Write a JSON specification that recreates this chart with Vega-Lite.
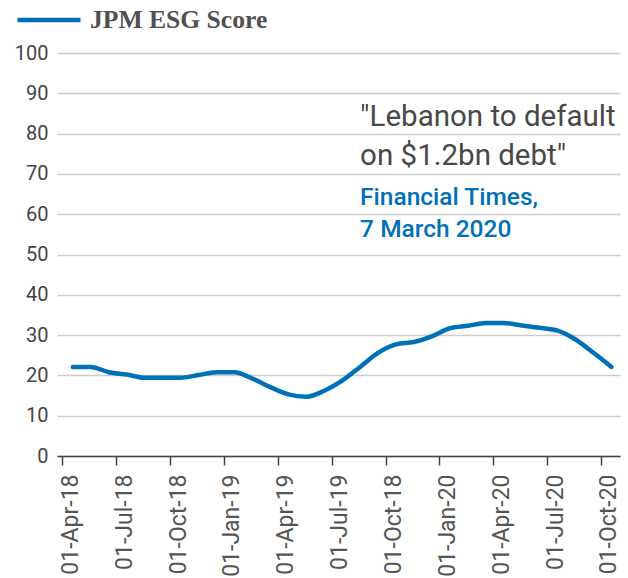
{
  "$schema": "https://vega.github.io/schema/vega-lite/v6.json",
  "autosize": {"type": "none"},
  "padding": {"left": 57, "top": 53, "right": 8, "bottom": 122},
  "width": 563,
  "height": 403,
  "background": "white",
  "config": {
    "view": {"stroke": null},
    "font": "Roboto"
  },
  "datasets": {
    "series": [
      {"m": "Apr-18", "v": 22.1, "s": "JPM ESG Score"},
      {"m": "May-18", "v": 22.1, "s": "JPM ESG Score"},
      {"m": "Jun-18", "v": 20.8, "s": "JPM ESG Score"},
      {"m": "Jul-18", "v": 20.2, "s": "JPM ESG Score"},
      {"m": "Aug-18", "v": 19.4, "s": "JPM ESG Score"},
      {"m": "Sep-18", "v": 19.4, "s": "JPM ESG Score"},
      {"m": "Oct-18", "v": 19.4, "s": "JPM ESG Score"},
      {"m": "Nov-18", "v": 20.1, "s": "JPM ESG Score"},
      {"m": "Dec-18", "v": 20.8, "s": "JPM ESG Score"},
      {"m": "Jan-19", "v": 20.8, "s": "JPM ESG Score"},
      {"m": "Feb-19", "v": 19.2, "s": "JPM ESG Score"},
      {"m": "Mar-19", "v": 17.1, "s": "JPM ESG Score"},
      {"m": "Apr-19", "v": 15.3, "s": "JPM ESG Score"},
      {"m": "May-19", "v": 14.7, "s": "JPM ESG Score"},
      {"m": "Jun-19", "v": 16.2, "s": "JPM ESG Score"},
      {"m": "Jul-19", "v": 18.7, "s": "JPM ESG Score"},
      {"m": "Aug-19", "v": 22.1, "s": "JPM ESG Score"},
      {"m": "Sep-19", "v": 25.6, "s": "JPM ESG Score"},
      {"m": "Oct-19", "v": 27.7, "s": "JPM ESG Score"},
      {"m": "Nov-19", "v": 28.3, "s": "JPM ESG Score"},
      {"m": "Dec-19", "v": 29.7, "s": "JPM ESG Score"},
      {"m": "Jan-20", "v": 31.7, "s": "JPM ESG Score"},
      {"m": "Feb-20", "v": 32.3, "s": "JPM ESG Score"},
      {"m": "Mar-20", "v": 33.0, "s": "JPM ESG Score"},
      {"m": "Apr-20", "v": 33.0, "s": "JPM ESG Score"},
      {"m": "May-20", "v": 32.4, "s": "JPM ESG Score"},
      {"m": "Jun-20", "v": 31.8, "s": "JPM ESG Score"},
      {"m": "Jul-20", "v": 31.1, "s": "JPM ESG Score"},
      {"m": "Aug-20", "v": 28.9, "s": "JPM ESG Score"},
      {"m": "Sep-20", "v": 25.6, "s": "JPM ESG Score"},
      {"m": "Oct-20", "v": 22.1, "s": "JPM ESG Score"}
    ],
    "quote": [
      {"m": "Aug-19", "v": 82.0, "t": "\"Lebanon to default"},
      {"m": "Aug-19", "v": 72.1, "t": "on $1.2bn debt\""}
    ],
    "source": [
      {"m": "Aug-19", "v": 62.2, "t": "Financial Times,"},
      {"m": "Aug-19", "v": 54.3, "t": "7 March 2020"}
    ]
  },
  "encoding": {
    "x": {
      "field": "m",
      "type": "ordinal",
      "sort": null,
      "scale": {"type": "point", "padding": 0.68, "align": 0.65},
      "axis": {
        "title": null,
        "values": ["Apr-18", "Jul-18", "Oct-18", "Jan-19", "Apr-19", "Jul-19", "Oct-19", "Jan-20", "Apr-20", "Jul-20", "Oct-20"],
        "labelExpr": "datum.value == 'Oct-19' ? '01-Oct-18' : '01-' + datum.value",
        "labelAngle": -90,
        "labelAlign": "right",
        "labelBaseline": "middle",
        "labelFont": "Roboto",
        "labelFontSize": 23,
        "labelColor": "#555555",
        "labelPadding": 9,
        "labelOffset": 8,
        "labelLimit": 0,
        "tickOffset": -10.5,
        "tickSize": 9,
        "tickWidth": 1.5,
        "tickColor": "#444444",
        "domainColor": "#444444",
        "domainWidth": 1.5,
        "grid": false
      }
    },
    "y": {
      "field": "v",
      "type": "quantitative",
      "scale": {"domain": [0, 100], "nice": false},
      "axis": {
        "title": null,
        "values": [0, 10, 20, 30, 40, 50, 60, 70, 80, 90, 100],
        "domain": false,
        "ticks": false,
        "grid": true,
        "gridColor": "#cccccc",
        "gridWidth": 1.5,
        "labelFont": "Roboto",
        "labelFontSize": 20,
        "labelColor": "#444444",
        "labelPadding": 9
      }
    }
  },
  "layer": [
    {
      "data": {"name": "series"},
      "mark": {"type": "line", "strokeWidth": 4.5, "strokeCap": "round", "strokeJoin": "round", "interpolate": "monotone"},
      "encoding": {
        "color": {
          "field": "s",
          "type": "nominal",
          "scale": {"range": ["#0070B8"]},
          "legend": {
            "title": null,
            "orient": "none",
            "legendX": -42,
            "legendY": -67,
            "symbolType": "stroke",
            "symbolSize": 3969,
            "symbolStrokeWidth": 4.5,
            "labelFont": "Liberation Serif",
            "labelFontSize": 25.6,
            "labelFontWeight": "bold",
            "labelColor": "#505050",
            "labelOffset": 7,
            "labelLimit": 0,
            "padding": 0
          }
        }
      }
    },
    {
      "data": {"name": "quote"},
      "mark": {"type": "text", "align": "left", "baseline": "alphabetic", "font": "Roboto", "fontSize": 29.5, "color": "#484848"},
      "encoding": {"text": {"field": "t"}}
    },
    {
      "data": {"name": "source"},
      "mark": {"type": "text", "align": "left", "baseline": "alphabetic", "font": "Roboto", "fontSize": 24.5, "fontWeight": 500, "color": "#0070B8"},
      "encoding": {"text": {"field": "t"}}
    }
  ]
}
